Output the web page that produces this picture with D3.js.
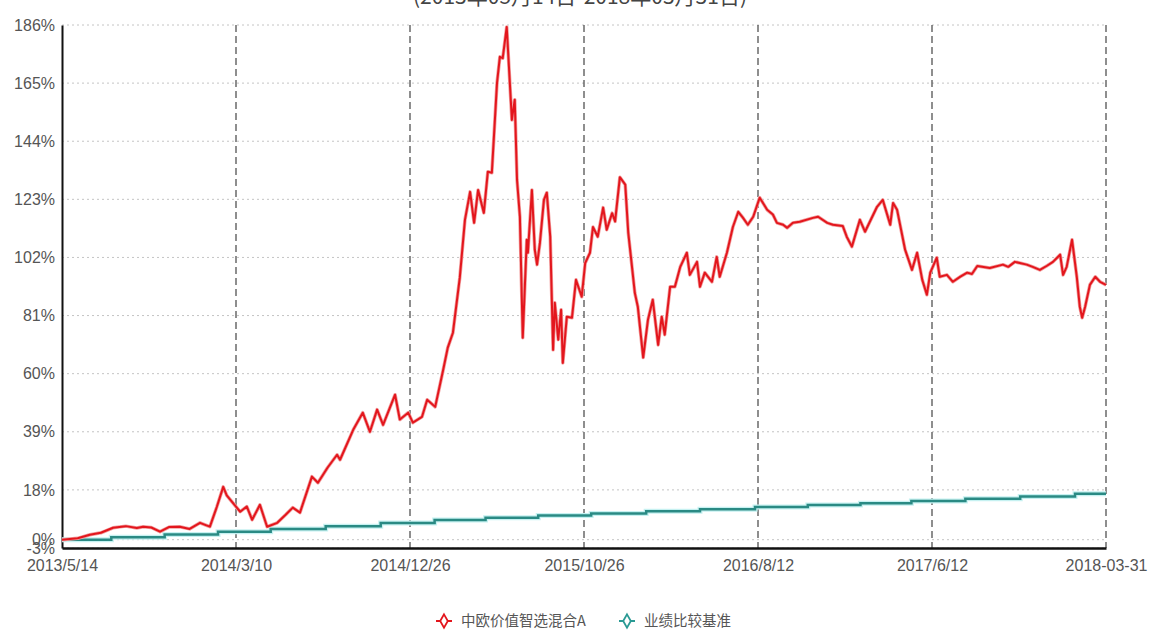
<!DOCTYPE html>
<html>
<head>
<meta charset="utf-8">
<script src="https://cdn.jsdelivr.net/npm/d3@7"></script>
<style>
  body { margin: 0; background: #fff; }
  svg { display: block; }
</style>
</head>
<body>
<div id="chart"></div>
<script>
// tick labels
var xTickLabels = ["2013/5/14", "2014/3/10", "2014/12/26", "2015/10/26", "2016/8/12", "2017/6/12", "2018-03-31"];
var xTickDates = ["2013-05-14", "2014-03-10", "2014-12-26", "2015-10-26", "2016-08-12", "2017-06-12", "2018-03-31"];
var yTicks = [-3, 0, 18, 39, 60, 81, 102, 123, 144, 165, 186];

var seriesNames = ["中欧价值智选混合A", "业绩比较基准"];

// fund cumulative return (%)
var fundDates = [
  "2013-05-14", "2013-06-10", "2013-07-01", "2013-07-20", "2013-08-10", "2013-09-01", "2013-09-20", "2013-10-01",
  "2013-10-15", "2013-10-30", "2013-11-15", "2013-12-03", "2013-12-20", "2014-01-07", "2014-01-18", "2014-01-24",
  "2014-02-05", "2014-02-16", "2014-02-22", "2014-02-28", "2014-03-17", "2014-03-28", "2014-04-06", "2014-04-19",
  "2014-05-01", "2014-05-18", "2014-06-01", "2014-06-13", "2014-06-25", "2014-07-15", "2014-07-25", "2014-08-10",
  "2014-08-26", "2014-08-31", "2014-09-22", "2014-10-08", "2014-10-20", "2014-11-01", "2014-11-11", "2014-12-01",
  "2014-12-09", "2014-12-23", "2014-12-31", "2015-01-16", "2015-01-25", "2015-02-08", "2015-02-22", "2015-03-02",
  "2015-03-11", "2015-03-23", "2015-04-01", "2015-04-10", "2015-04-17", "2015-04-24", "2015-05-04", "2015-05-11",
  "2015-05-18", "2015-05-27", "2015-06-01", "2015-06-06", "2015-06-13", "2015-06-22", "2015-06-27", "2015-07-01",
  "2015-07-06", "2015-07-11", "2015-07-18", "2015-07-20", "2015-07-27", "2015-08-01", "2015-08-05", "2015-08-10",
  "2015-08-17", "2015-08-22", "2015-08-28", "2015-09-02", "2015-09-05", "2015-09-11", "2015-09-16", "2015-09-19",
  "2015-09-26", "2015-10-05", "2015-10-12", "2015-10-22", "2015-10-28", "2015-11-05", "2015-11-10", "2015-11-18",
  "2015-11-27", "2015-12-03", "2015-12-12", "2015-12-17", "2015-12-25", "2016-01-03", "2016-01-08", "2016-01-19",
  "2016-01-24", "2016-02-02", "2016-02-10", "2016-02-18", "2016-02-27", "2016-03-04", "2016-03-09", "2016-03-18",
  "2016-03-26", "2016-04-04", "2016-04-15", "2016-04-20", "2016-05-02", "2016-05-07", "2016-05-15", "2016-05-27",
  "2016-06-04", "2016-06-09", "2016-06-21", "2016-07-01", "2016-07-10", "2016-07-18", "2016-07-26", "2016-08-04",
  "2016-08-15", "2016-08-28", "2016-09-07", "2016-09-14", "2016-09-25", "2016-10-02", "2016-10-12", "2016-10-24",
  "2016-11-16", "2016-11-25", "2016-12-11", "2016-12-21", "2017-01-07", "2017-01-14", "2017-01-23", "2017-02-06",
  "2017-02-15", "2017-03-08", "2017-03-18", "2017-03-31", "2017-04-05", "2017-04-12", "2017-04-26", "2017-05-08",
  "2017-05-17", "2017-05-26", "2017-06-03", "2017-06-09", "2017-06-20", "2017-06-25", "2017-07-07", "2017-07-17",
  "2017-07-29", "2017-08-10", "2017-08-18", "2017-08-27", "2017-09-17", "2017-10-09", "2017-10-18", "2017-10-29",
  "2017-11-18", "2017-11-28", "2017-12-10", "2017-12-22", "2018-01-01", "2018-01-13", "2018-01-18", "2018-01-24",
  "2018-02-02", "2018-02-10", "2018-02-15", "2018-02-19", "2018-02-24", "2018-03-04", "2018-03-13", "2018-03-21",
  "2018-03-31"
];
var fundValues = [
  0.0, 0.5, 1.8, 2.5, 4.3, 4.9, 4.2, 4.7,
  4.4, 2.9, 4.6, 4.7, 3.9, 6.1, 5.2, 4.7,
  11.9, 19.1, 16.0, 14.5, 10.1, 12.0, 7.2, 12.6,
  4.7, 6.1, 9.0, 11.6, 9.8, 22.8, 20.6, 26.0,
  30.7, 28.9, 39.7, 45.9, 39.0, 47.0, 41.5, 52.4,
  43.4, 45.9, 42.3, 44.4, 50.6, 48.0, 61.4, 69.4,
  74.8, 94.7, 115.6, 125.7, 114.5, 126.4, 118.1, 133.0,
  132.6, 165.0, 174.5, 174.0, 185.3, 151.7, 159.0, 130.0,
  116.7, 73.0, 108.4, 103.7, 126.4, 104.8, 99.4, 107.3,
  122.8, 125.4, 109.5, 68.6, 85.6, 72.3, 83.1, 63.9,
  80.6, 80.2, 93.9, 87.8, 100.0, 103.7, 113.0, 109.5,
  120.0, 112.0, 118.0, 115.0, 131.0, 128.3, 111.0, 89.2,
  84.2, 65.8, 79.5, 86.7, 70.4, 80.6, 74.1, 91.4,
  91.4, 98.6, 103.7, 95.7, 100.4, 91.4, 96.5, 93.2,
  102.2, 95.0, 103.7, 113.0, 118.5, 116.3, 113.8, 116.7,
  123.6, 119.2, 117.5, 114.5, 113.8, 112.7, 114.5, 114.9,
  116.3, 116.7, 114.5, 113.8, 113.4, 109.5, 105.9, 115.6,
  111.3, 120.3, 122.8, 113.8, 121.7, 119.2, 104.8, 97.5,
  103.7, 93.9, 88.5, 96.5, 101.9, 95.0, 95.7, 93.2,
  95.0, 96.5, 96.0, 98.9, 98.2, 99.4, 98.6, 100.4,
  99.4, 98.6, 97.5, 99.0, 100.4, 103.0, 95.7, 98.6,
  108.4, 95.0, 84.2, 80.2, 84.2, 92.1, 95.0, 93.2,
  92.1
];

// benchmark (%), stepwise
var benchDates = [
  "2013-05-14", "2013-08-07", "2013-11-07", "2014-02-07", "2014-05-07", "2014-08-07", "2014-11-07",
  "2015-02-07", "2015-05-07", "2015-08-07", "2015-11-07", "2016-02-07", "2016-05-07", "2016-08-07",
  "2016-11-07", "2017-02-07", "2017-05-07", "2017-08-07", "2017-11-07", "2018-02-07", "2018-03-31"
];
var benchValues = [
  0.0, 0.9, 1.9, 2.9, 3.9, 4.9, 6.0,
  7.1, 7.9, 8.7, 9.5, 10.3, 11.0, 11.8,
  12.5, 13.2, 14.0, 14.8, 15.6, 16.6, 16.6
];

var W = 1152, H = 631;
var margin = { top: 25, right: 46, bottom: 83, left: 62 },
    width = W - margin.left - margin.right,
    height = H - margin.top - margin.bottom;

var parse = d3.timeParse("%Y-%m-%d");

var svg = d3.select("#chart").append("svg")
    .attr("width", W).attr("height", H)
    .style("font-family", "'DejaVu Sans', sans-serif");

// title, cut off at the top like the picture
svg.append("text")
    .attr("x", 580).attr("y", 4)
    .attr("text-anchor", "middle")
    .style("font-size", "21px")
    .style("fill", "#444")
    .style("font-family", "'Noto Sans CJK SC', sans-serif")
    .text("(2013年05月14日-2018年03月31日)");

var g = svg.append("g")
    .attr("transform", "translate(" + margin.left + "," + margin.top + ")");

// x: equally spaced labelled dates
var x = d3.scaleTime()
    .domain(xTickDates.map(parse))
    .range(xTickDates.map(function (d, i) { return i * width / (xTickDates.length - 1); }));

var y = d3.scaleLinear()
    .domain([-3, 186])
    .range([height, 0]);

// horizontal dotted grid
g.append("g")
    .selectAll("line")
    .data(yTicks)
    .enter().append("line")
    .attr("x1", 0).attr("x2", width)
    .attr("y1", function (d) { return y(d); })
    .attr("y2", function (d) { return y(d); })
    .style("stroke", "#c4c4c4")
    .style("stroke-width", 1)
    .style("stroke-dasharray", "2,3");

// vertical dashed grid
g.append("g")
    .selectAll("line")
    .data(xTickDates.slice(1))
    .enter().append("line")
    .attr("x1", function (d) { return x(parse(d)); })
    .attr("x2", function (d) { return x(parse(d)); })
    .attr("y1", 0).attr("y2", height)
    .style("stroke", "#444")
    .style("stroke-width", 1.2)
    .style("stroke-dasharray", "7,4");

// y axis
var yAxis = g.append("g")
    .call(d3.axisLeft(y).tickValues(yTicks).tickSize(0).tickPadding(7)
        .tickFormat(function (d) { return d + "%"; }));
yAxis.select(".domain").style("stroke", "#111").style("stroke-width", 2);
yAxis.selectAll("text").style("font-size", "16px").style("fill", "#555");

// x axis
var xAxis = g.append("g")
    .attr("transform", "translate(0," + height + ")")
    .call(d3.axisBottom(x).tickValues(xTickDates.map(parse)).tickSize(0).tickPadding(12)
        .tickFormat(function (d, i) { return xTickLabels[i]; }));
xAxis.select(".domain").style("stroke", "#111").style("stroke-width", 2.5);
xAxis.selectAll("text").style("font-size", "16px").style("fill", "#555");

// benchmark line with light halo
var benchData = benchDates.map(function (d, i) { return { date: parse(d), value: benchValues[i] }; });
var benchLine = d3.line()
    .curve(d3.curveStepAfter)
    .x(function (d) { return x(d.date); })
    .y(function (d) { return y(d.value); });

g.append("path").datum(benchData)
    .attr("d", benchLine)
    .style("fill", "none").style("stroke", "#c6f1f1").style("stroke-width", 5);
g.append("path").datum(benchData)
    .attr("d", benchLine)
    .style("fill", "none").style("stroke", "#2a8a84").style("stroke-width", 2.5);

// fund line
var fundData = fundDates.map(function (d, i) { return { date: parse(d), value: fundValues[i] }; });
var fundLine = d3.line()
    .x(function (d) { return x(d.date); })
    .y(function (d) { return y(d.value); });

g.append("path").datum(fundData)
    .attr("d", fundLine)
    .style("fill", "none").style("stroke", "#f2a0a0").style("stroke-width", 3.5)
    .style("stroke-linejoin", "round");
g.append("path").datum(fundData)
    .attr("d", fundLine)
    .style("fill", "none").style("stroke", "#e3161d").style("stroke-width", 2)
    .style("stroke-linejoin", "round");

// legend
var legendColors = ["#e3161d", "#2a9a94"];
var legendX = [444, 627];
var legend = svg.append("g").attr("transform", "translate(0,621)");
seriesNames.forEach(function (name, i) {
    var lg = legend.append("g").attr("transform", "translate(" + legendX[i] + ",0)");
    lg.append("line")
        .attr("x1", -8).attr("x2", 8)
        .style("stroke", legendColors[i]).style("stroke-width", 2);
    lg.append("path")
        .attr("d", d3.symbol().type(d3.symbolDiamond).size(50))
        .style("fill", "#fff").style("stroke", legendColors[i]).style("stroke-width", 1.8);
    lg.append("text")
        .attr("x", 17).attr("y", 5)
        .style("font-size", "14.5px")
        .style("fill", "#555")
        .style("font-family", "'Noto Sans CJK SC', sans-serif")
        .text(name);
});
</script>
</body>
</html>
